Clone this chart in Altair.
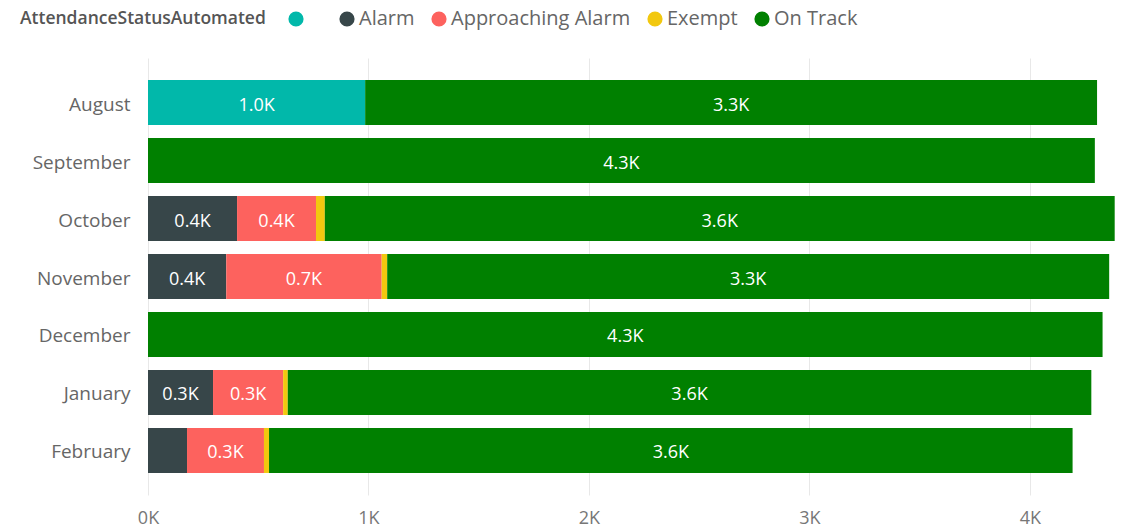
import altair as alt
import pandas as pd

months = ["August", "September", "October", "November", "December", "January", "February"]
statuses = ["", "Alarm", "Approaching Alarm", "Exempt", "On Track"]
colors = ["#01B8AA", "#374649", "#FD625E", "#F2C80F", "#008000"]

blank = [985, 0, 0, 0, 0, 0, 0]
alarm = [0, 0, 404, 355, 0, 295, 177]
approaching = [0, 0, 358, 705, 0, 318, 349]
exempt = [0, 0, 40, 25, 0, 21, 23]
on_track = [3320, 4295, 3583, 3275, 4330, 3645, 3645]

series = [blank, alarm, approaching, exempt, on_track]
rows = []
for si, (st, vals) in enumerate(zip(statuses, series)):
    for m, v in zip(months, vals):
        if v > 0:
            rows.append({"month": m, "status": st, "value": v, "order": si})
df = pd.DataFrame(rows)

FONT = "Open Sans"

base = alt.Chart(df).transform_stack(
    stack="value",
    groupby=["month"],
    as_=["v0", "v1"],
    sort=[alt.SortField("order", order="ascending")],
)

y_enc = alt.Y(
    "month:N",
    sort=months,
    scale=alt.Scale(paddingInner=0.224, paddingOuter=0.38),
    axis=alt.Axis(title=None, domain=False, ticks=False, grid=False,
                  labelFontSize=19, labelColor="#666666", labelPadding=18,
                  labelOffset=2),
)

bars = base.mark_bar().encode(
    y=y_enc,
    x=alt.X(
        "v0:Q",
        scale=alt.Scale(domain=[0, 4400], nice=False),
        axis=alt.Axis(title=None, values=[0, 1000, 2000, 3000, 4000],
                      labelExpr="datum.value/1000 + 'K'",
                      grid=True, gridColor="#E8E8E8", domain=False, ticks=False,
                      labelFontSize=18, labelColor="#777777", labelPadding=14,
                      labelFlush=False),
    ),
    x2="v1:Q",
    color=alt.Color(
        "status:N",
        scale=alt.Scale(domain=statuses, range=colors),
        legend=alt.Legend(
            orient="none", legendX=-128, legendY=-49,
            direction="horizontal", titleOrient="left",
            title="AttendanceStatusAutomated",
            titleFontSize=17.5, titleFontWeight=600, titleColor="#555555",
            titleLimit=0, labelLimit=0,
            labelExpr="datum.label == '' ? '\u2800' : datum.label",
            labelFontSize=20, labelColor="#666666",
            symbolType="circle", symbolSize=230, symbolStrokeWidth=0,
            symbolOpacity=1, labelOffset=2, columnPadding=14, titlePadding=20,
        ),
    ),
)

labels = base.transform_filter(
    alt.datum.value >= 200
).transform_calculate(
    mid="(datum.v0 + datum.v1) / 2",
    label="format(datum.value / 1000, '.1f') + 'K'",
).mark_text(color="white", fontSize=18, baseline="middle", align="center", dy=3).encode(
    y=alt.Y("month:N", sort=months),
    x=alt.X("mid:Q"),
    text="label:N",
)

chart = alt.layer(bars, labels).properties(
    width=970, height=437,
    padding={"left": 12, "top": 1, "right": 5, "bottom": 5},
).configure(font=FONT).configure_view(stroke=None)

chart.save("out.html", embed_options={"renderer": "svg", "actions": False})
